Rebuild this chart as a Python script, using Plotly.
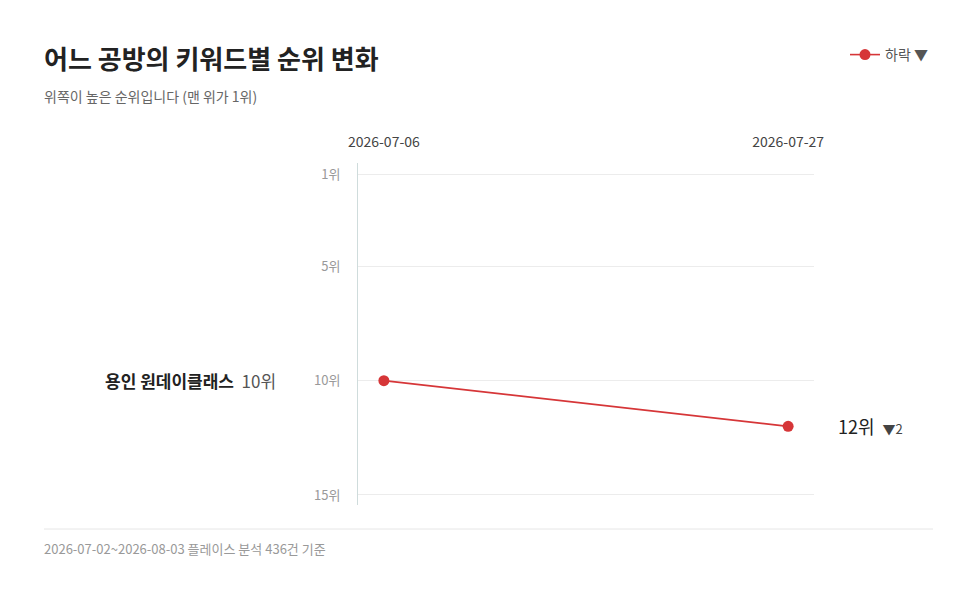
import plotly.graph_objects as go

dates = ["2026-07-06", "2026-07-27"]
ranks = [10, 12]
keyword = "용인 원데이클래스"
rank_ticks = [1, 5, 10, 15]
rank_labels = ["1위", "5위", "10위", "15위"]

FONT = "Noto Sans CJK KR"
RED = "#d63638"
W, H = 960, 589
L, R, T, B = 350, 154, 155, 92
PW, PH = W - L - R, H - T - B

fig = go.Figure()
fig.add_trace(go.Scatter(
    x=[0, 1], y=ranks, mode="lines+markers", name="하락 ▼",
    line=dict(color=RED, width=1.6), marker=dict(color=RED, size=11),
    hoverinfo="skip"))

fig.update_layout(
    width=W, height=H, margin=dict(l=L, r=R, t=T, b=B, autoexpand=False),
    plot_bgcolor="white", paper_bgcolor="white",
    font=dict(family=FONT, color="#333"),
    showlegend=True,
    legend=dict(x=(925 - L) / PW, y=(H - B - 47) / PH, xanchor="right", yanchor="middle",
                font=dict(size=14, color="#555"), bgcolor="rgba(0,0,0,0)"),
    xaxis=dict(range=[-0.064, 1.064], side="top", tickvals=[0, 1], ticktext=dates,
               showgrid=False, zeroline=False, showline=False, ticks="",
               tickfont=dict(size=14, color="#444"), ticklabelstandoff=12, fixedrange=True),
    yaxis=dict(range=[15.44, 0.48], tickvals=rank_ticks, ticktext=rank_labels,
               showgrid=True, gridcolor="#ececec", zeroline=False,
               showline=True, linecolor="#cfdcdc", ticks="",
               tickfont=dict(size=13, color="#999"), ticklabelstandoff=14, fixedrange=True),
)

def px(x):
    return (x - L) / PW

def py(y):
    return (H - B - y) / PH

fig.add_annotation(xref="paper", yref="paper", x=px(34), y=py(50), xanchor="left", yanchor="middle",
                   text="<b>어느 공방의 키워드별 순위 변화</b>", showarrow=False,
                   font=dict(size=26, color="#222"))
fig.add_annotation(xref="paper", yref="paper", x=px(34), y=py(88), xanchor="left", yanchor="middle",
                   text="위쪽이 높은 순위입니다 (맨 위가 1위)", showarrow=False,
                   font=dict(size=14, color="#666"))
fig.add_annotation(xref="paper", yref="y", x=px(270), y=ranks[0], xanchor="right", yanchor="middle",
                   text=f"<b>{keyword}</b>  <span style='color:#555'>{ranks[0]}위</span>",
                   showarrow=False, font=dict(size=17, color="#222"))
fig.add_annotation(xref="paper", yref="y", x=px(828), y=ranks[1], xanchor="left", yanchor="middle",
                   text=f"{ranks[1]}위  <span style='color:#444;font-size:13px'>▼{ranks[1]-ranks[0]}</span>",
                   showarrow=False, font=dict(size=18, color="#222"))
fig.add_shape(type="line", xref="paper", yref="paper", x0=px(36), x1=px(925),
              y0=py(521), y1=py(521), line=dict(color="#e6e6e6", width=1))
fig.add_annotation(xref="paper", yref="paper", x=px(34), y=py(540), xanchor="left", yanchor="middle",
                   text="2026-07-02~2026-08-03 플레이스 분석 436건 기준", showarrow=False,
                   font=dict(size=13, color="#999"))

fig.write_html("out.html")
